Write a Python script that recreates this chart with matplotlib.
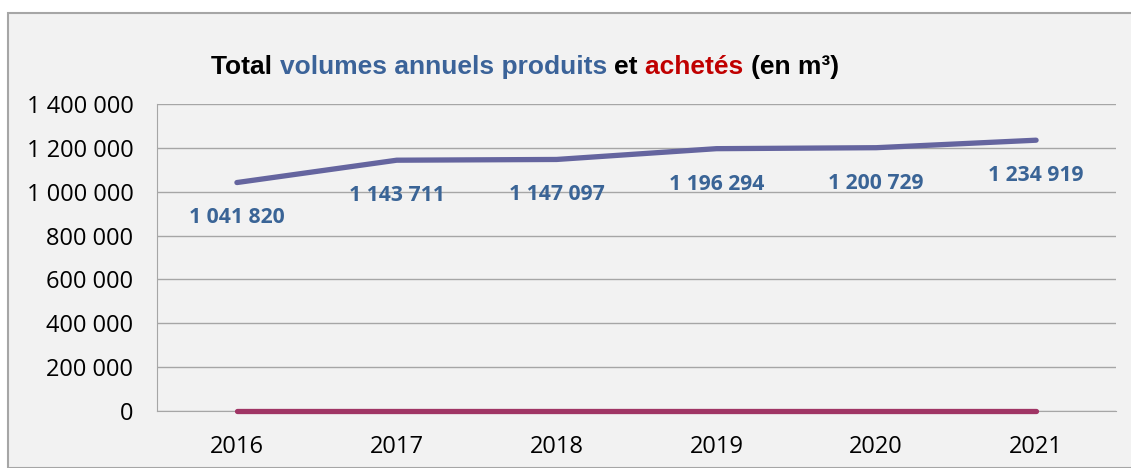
import matplotlib
matplotlib.use("Agg")
import matplotlib.pyplot as plt
from matplotlib.offsetbox import TextArea, HPacker, AnnotationBbox
from matplotlib.patches import Rectangle
from matplotlib.ticker import FuncFormatter

years = ["2016", "2017", "2018", "2019", "2020", "2021"]
produits = [1041820, 1143711, 1147097, 1196294, 1200729, 1234919]
achetes = [0, 0, 0, 0, 0, 0]
yticks = [0, 200000, 400000, 600000, 800000, 1000000, 1200000, 1400000]

bg = "#f2f2f2"
fig = plt.figure(figsize=(11.31, 4.68), dpi=100)
fig.patch.set_facecolor("white")
fig.patches.append(Rectangle((8 / 1131, 0), 1.0, 1 - 13 / 468, transform=fig.transFigure,
                             facecolor=bg, edgecolor="#a6a6a6", linewidth=1.5, zorder=-1))

ax = fig.add_axes([157 / 1131, 57 / 468, 959 / 1131, 307 / 468])
ax.set_facecolor(bg)
x = range(len(years))
ax.plot(x, produits, color="#65659f", lw=3.8, solid_capstyle="round", zorder=3)
ax.plot(x, achetes, color="#a03565", lw=3.8, solid_capstyle="round", zorder=3, clip_on=False)

# data labels under the produced-volume line
for i, v in enumerate(produits):
    ax.annotate(f"{v:,}".replace(",", " "), (i, v), xytext=(0, -25.5), textcoords="offset points",
                ha="center", va="center", color="#3a6496", fontsize=15.2,
                fontweight="bold", family="Open Sans")

ax.set_xlim(-0.5, 5.5)
ax.set_ylim(0, 1400000)
ax.set_yticks(yticks)
ax.yaxis.set_major_formatter(FuncFormatter(lambda v, p: f"{int(v):,}".replace(",", " ")))
ax.set_xticks(list(x))
ax.set_xticklabels(years)
ax.grid(axis="y", color="#a6a6a6", lw=1)
ax.set_axisbelow(True)
for s in ["top", "right"]:
    ax.spines[s].set_visible(False)
for s in ["left", "bottom"]:
    ax.spines[s].set_color("#a6a6a6")
ax.tick_params(length=0, labelsize=17, colors="black")
ax.tick_params(axis="y", pad=17)
ax.tick_params(axis="x", pad=17)
for t in ax.get_xticklabels() + ax.get_yticklabels():
    t.set_family("Open Sans")

# multi-coloured title
parts = [("Total ", "black"), ("volumes annuels produits ", "#3b6399"),
         ("et ", "black"), ("achetés ", "#c00000"), ("(en m³)", "black")]
boxes = [TextArea(s, textprops=dict(color=c, fontsize=19, fontweight="bold",
                                    family="Liberation Sans")) for s, c in parts]
title = HPacker(children=boxes, pad=0, sep=0, align="baseline")
fig.add_artist(AnnotationBbox(title, (525 / 1131, 1 - 67 / 468), xycoords="figure fraction",
                              frameon=False, box_alignment=(0.5, 0.5)))

fig.savefig("out.png", dpi=100, facecolor=fig.get_facecolor())
